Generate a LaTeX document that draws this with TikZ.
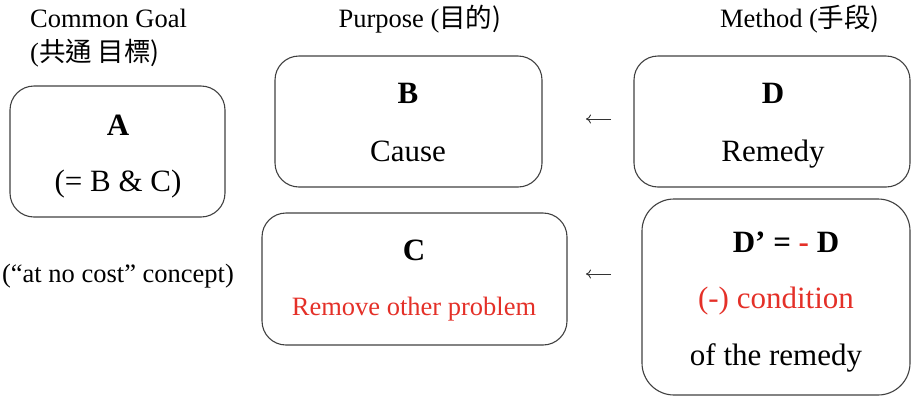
\documentclass[tikz,border=0pt]{standalone}
\usepackage{fontspec}
\setmainfont{Liberation Serif}
\newfontfamily\cjk{Noto Sans CJK TC}
\usetikzlibrary{arrows.meta}
\definecolor{remred}{RGB}{228,48,40}
\newcommand{\bigtxt}{\fontsize{31}{36}\selectfont}
\newcommand{\midtxt}{\fontsize{26.5}{30}\selectfont}

\begin{document}
\begin{tikzpicture}[x=1pt,y=-1pt]
    \tikzstyle{box}=[draw,line width = 1.1pt,black!75,rounded corners=24pt]
    \tikzstyle{head}=[font=\midtxt,inner sep=0pt]
    \tikzstyle{big}=[font=\bigtxt,inner sep=0pt,anchor=base]
    \tikzstyle{arrow}=[draw,line width = .9pt,black!80,-{To[length=5pt,width=9pt]}]
    \useasboundingbox (0,0) rectangle (912,397);
    % column headers
    \node[head,anchor=base west] (goal) at (30,27) {Common Goal};
    \node[head,anchor=base west] (goaljp) at (30,61) {(\cjk{共通 目標})};
    \node[head,anchor=base] (purpose) at (420,27) {Purpose (\cjk{目的})};
    \node[head,anchor=base] (method) at (800,27) {Method (\cjk{手段})};
    % boxes
    \draw[box] (10,86) rectangle (225,217);
    \draw[box] (275,56) rectangle (542,187);
    \draw[box] (262,213) rectangle (567,345);
    \draw[box] (634,56) rectangle (910,187);
    \draw[box,rounded corners=32pt] (642,199) rectangle (910,395);
    % texts
    \node[big] (a) at (118,135) {\textbf{A}};
    \node[big] (abc) at (118,191) {(= B \& C)};
    \node[head,anchor=base] (nocost) at (118,282) {(“at no cost” concept)};
    \node[big] (b) at (408,103) {\textbf{B}};
    \node[big] (cause) at (408,161) {Cause};
    \node[big] (c) at (414,260) {\textbf{C}};
    \node[head,anchor=base,text=remred] (remove) at (414,315) {Remove other problem};
    \node[big] (d) at (773,103) {\textbf{D}};
    \node[big] (remedy) at (773,161) {Remedy};
    \node[big] (dprime) at (786,252) {\textbf{D’ = \textcolor{remred}{-} D}};
    \node[big,text=remred] (cond) at (776,308) {(-) condition};
    \node[big] (ofrem) at (776,365) {of the remedy};
    % arrows
    \coordinate (fromD) at (611,119);
    \coordinate (toB) at (586,119);
    \coordinate (fromDp) at (611,274);
    \coordinate (toC) at (586,274);
    \draw[arrow] (fromD) -- (toB);
    \draw[arrow] (fromDp) -- (toC);
\end{tikzpicture}
\end{document}
